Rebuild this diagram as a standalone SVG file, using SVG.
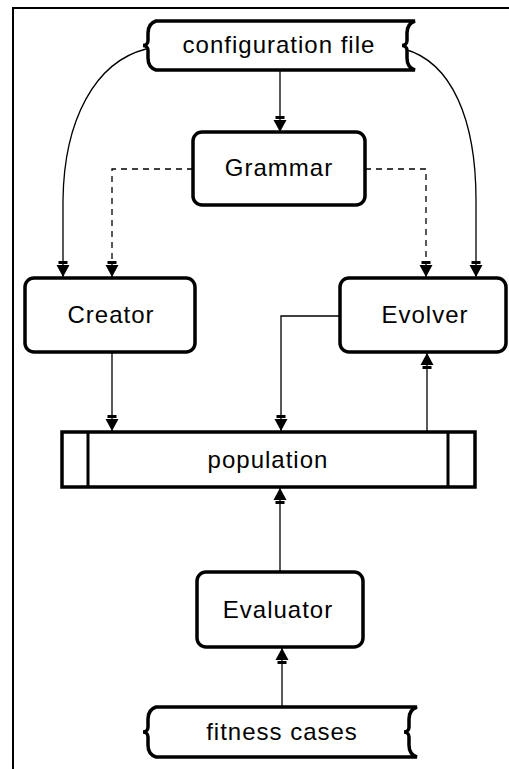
<svg xmlns="http://www.w3.org/2000/svg" width="509" height="769" viewBox="0 0 509 769">
  <style>
    .box { fill: #fff; stroke: #000; stroke-width: 3.5; }
    .lbl { font-family: "Liberation Sans", Arial, sans-serif; font-size: 24px; fill: #000; text-anchor: middle; letter-spacing: 1px; }
    .link { fill: none; stroke: #000; stroke-width: 1.3; marker-end: url(#head); }
    .dash { stroke-dasharray: 6 5; }
    .frame { fill: none; stroke: #000; stroke-width: 2; }
  </style>
  <defs>
    <!-- filled head with a short cross bar behind it -->
    <marker id="head" viewBox="-18 -8 19 16" refX="0" refY="0" markerWidth="19" markerHeight="16" markerUnits="userSpaceOnUse" orient="auto">
      <path d="M0,0 L-12,-6.5 L-12,6.5 Z" fill="#000"/>
      <rect x="-16" y="-4.5" width="3" height="9" fill="#000"/>
    </marker>
  </defs>

  <!-- page frame -->
  <path class="frame" d="M13 769 L13 8 L509 8"/>

  <!-- connectors -->
  <g id="connectors">
    <path class="link" d="M280 70 L280 132"/>
    <path class="link" d="M146 49 C 95 62, 64 120, 63 200 L63 277"/>
    <path class="link" d="M404 49 C 452 62, 476 120, 476 200 L476 277"/>
    <path class="link dash" d="M193 169 L112 169 L112 277"/>
    <path class="link dash" d="M365 169 L426 169 L426 277"/>
    <path class="link" d="M112 352 L112 431"/>
    <path class="link" d="M340 316 L281 316 L281 431"/>
    <path class="link" d="M427 432 L427 353"/>
    <path class="link" d="M280 572 L280 488"/>
    <path class="link" d="M282 707 L282 648"/>
  </g>

  <g id="config-file">
    <path class="box" d="M156 21 L415 21 C409 23,407 27,407 33 L407 40.5 C407 43.5,405 45.5,402 45.5 C405 45.5,407 47.5,407 50.5 L407 58 C407 64,409 68,415 70 L156 70 C150 68,148 64,148 58 L148 50.5 C148 47.5,146 45.5,143 45.5 C146 45.5,148 43.5,148 40.5 L148 33 C148 27,150 23,156 21 Z"/>
    <text class="lbl" x="279" y="53">configuration file</text>
  </g>

  <g id="grammar">
    <rect class="box" x="193" y="132" width="172" height="73" rx="9"/>
    <text class="lbl" x="279" y="176">Grammar</text>
  </g>

  <g id="creator">
    <rect class="box" x="25" y="278" width="170" height="74" rx="9"/>
    <text class="lbl" x="111" y="323">Creator</text>
  </g>

  <g id="evolver">
    <rect class="box" x="340" y="278" width="166" height="74" rx="9"/>
    <text class="lbl" x="425" y="323">Evolver</text>
  </g>

  <g id="population">
    <rect class="box" x="62" y="432" width="413" height="55"/>
    <line x1="88" y1="432" x2="88" y2="487" stroke="#000" stroke-width="3"/>
    <line x1="448" y1="432" x2="448" y2="487" stroke="#000" stroke-width="3"/>
    <text class="lbl" x="268" y="468">population</text>
  </g>

  <g id="evaluator">
    <rect class="box" x="197" y="572" width="166" height="75" rx="9"/>
    <text class="lbl" x="278" y="618">Evaluator</text>
  </g>

  <g id="fitness-cases">
    <path class="box" d="M156 707 L417 707 C411 709,409 713,409 719 L409 727 C409 730,407 732,404 732 C407 732,409 734,409 737 L409 745 C409 751,411 755,417 757 L156 757 C150 755,148 751,148 745 L148 737 C148 734,146 732,143 732 C146 732,148 730,148 727 L148 719 C148 713,150 709,156 707 Z"/>
    <text class="lbl" x="282" y="740">fitness cases</text>
  </g>
</svg>
